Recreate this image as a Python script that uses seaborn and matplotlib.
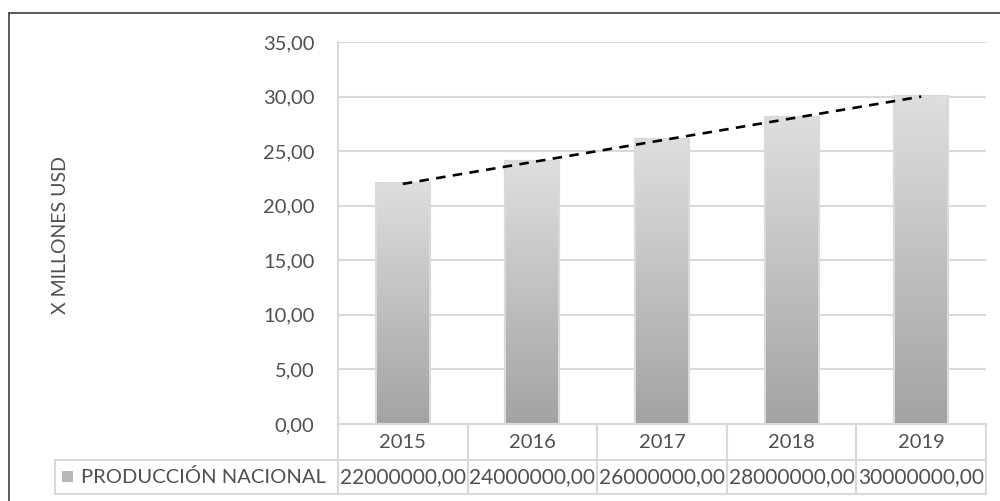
import numpy as np
import matplotlib
matplotlib.use("Agg")
import matplotlib.pyplot as plt
import matplotlib.transforms as mtransforms
from matplotlib.colors import LinearSegmentedColormap
from matplotlib.lines import Line2D
from matplotlib.patches import Rectangle
import seaborn as sns

# data
years = ["2015", "2016", "2017", "2018", "2019"]
produccion = [22000000, 24000000, 26000000, 28000000, 30000000]
serie = "PRODUCCIÓN NACIONAL"
y_ticks = [0, 5, 10, 15, 20, 25, 30, 35]
y_label = "X MILLONES USD"

millones = [v / 1e6 for v in produccion]

sns.set_theme(style="white")
plt.rcParams["font.family"] = ["Lato", "DejaVu Sans"]
txt = "#505050"
line_c = "#d9d9d9"

fig = plt.figure(figsize=(10, 5.01), dpi=100)
H = 501
ax = fig.add_axes([0.338, 1 - 424 / H, 0.648, (424 - 42) / H])

sns.barplot(x=years, y=millones, color="#c0c0c0", width=0.4, ax=ax, zorder=2)

# gradient fill on each bar (dark at bottom, light at top)
cmap = LinearSegmentedColormap.from_list("g", ["#a3a3a3", "#dedede"])
grad = np.linspace(0, 1, 256).reshape(-1, 1)
for bar in ax.patches:
    x0, w, h = bar.get_x(), bar.get_width(), bar.get_height()
    bar.set_facecolor("none")
    bar.set_edgecolor("#dadada")
    bar.set_linewidth(3)
    ax.imshow(grad, extent=[x0, x0 + w, 0, h], aspect="auto", cmap=cmap,
              origin="lower", zorder=2.5)

# linear trend line
xs = np.arange(len(years))
coef = np.polyfit(xs, millones, 1)
ax.plot(xs, np.polyval(coef, xs), ls=(0, (3.6, 2.8)), color="black",
        lw=1.9, zorder=4)

ax.set_xlim(-0.5, len(years) - 0.5)
ax.set_ylim(0, 35)
ax.set_yticks(y_ticks)
ax.set_yticklabels([f"{v:.2f}".replace(".", ",") for v in y_ticks],
                   fontsize=14.5, color=txt)
ax.tick_params(axis="y", length=0, pad=17)
ax.tick_params(axis="x", length=0, labelbottom=False)
ax.set_xlabel("")
ax.yaxis.grid(True, color=line_c, lw=1.5)
ax.set_axisbelow(True)
for s in ["top", "right"]:
    ax.spines[s].set_visible(False)
for s in ["left", "bottom"]:
    ax.spines[s].set_color(line_c)
    ax.spines[s].set_linewidth(1.5)

fig.text(0.06, 1 - 235 / H, y_label, rotation=90, ha="center", va="center",
         fontsize=14, color=txt)

# data table below the axis
tr = mtransforms.blended_transform_factory(ax.transData, fig.transFigure)
y_top, y_mid, y_bot = 1 - 424 / H, 1 - 460 / H, 1 - 494 / H
n = len(years)
for k in range(n + 1):
    fig.add_artist(Line2D([k - 0.5, k - 0.5], [y_top, y_bot], transform=tr,
                          color=line_c, lw=1.5))
for yy in [y_mid, y_bot]:
    fig.add_artist(Line2D([-0.5, n - 0.5], [yy, yy], transform=tr,
                          color=line_c, lw=1.5))
for yy in [y_mid, y_bot]:
    fig.add_artist(Line2D([0.055, 0.338], [yy, yy], color=line_c, lw=1.5))
fig.add_artist(Line2D([0.055, 0.055], [y_mid, y_bot], color=line_c, lw=1.5))

for i, (yr, v) in enumerate(zip(years, produccion)):
    fig.text(i, (y_top + y_mid) / 2, yr, transform=tr, ha="center",
             va="center", fontsize=14.5, color=txt)
    fig.text(i, (y_mid + y_bot) / 2, f"{v:.2f}".replace(".", ","),
             transform=tr, ha="center", va="center", fontsize=15, color=txt)

fig.add_artist(Rectangle((0.062, 1 - 482 / H), 0.011, 11 / H,
                         facecolor="#b8b8b8", edgecolor="none"))
fig.text(0.081, (y_mid + y_bot) / 2, serie, ha="left", va="center",
         fontsize=14.5, color=txt)

# outer frame
fig.add_artist(Line2D([0.009, 1], [1 - 12.5 / H, 1 - 12.5 / H],
                      color="#404040", lw=1.2))
fig.add_artist(Line2D([0.009, 0.009], [0, 1 - 12.5 / H],
                      color="#404040", lw=1.2))

fig.savefig("out.png", dpi=100, facecolor="white")
